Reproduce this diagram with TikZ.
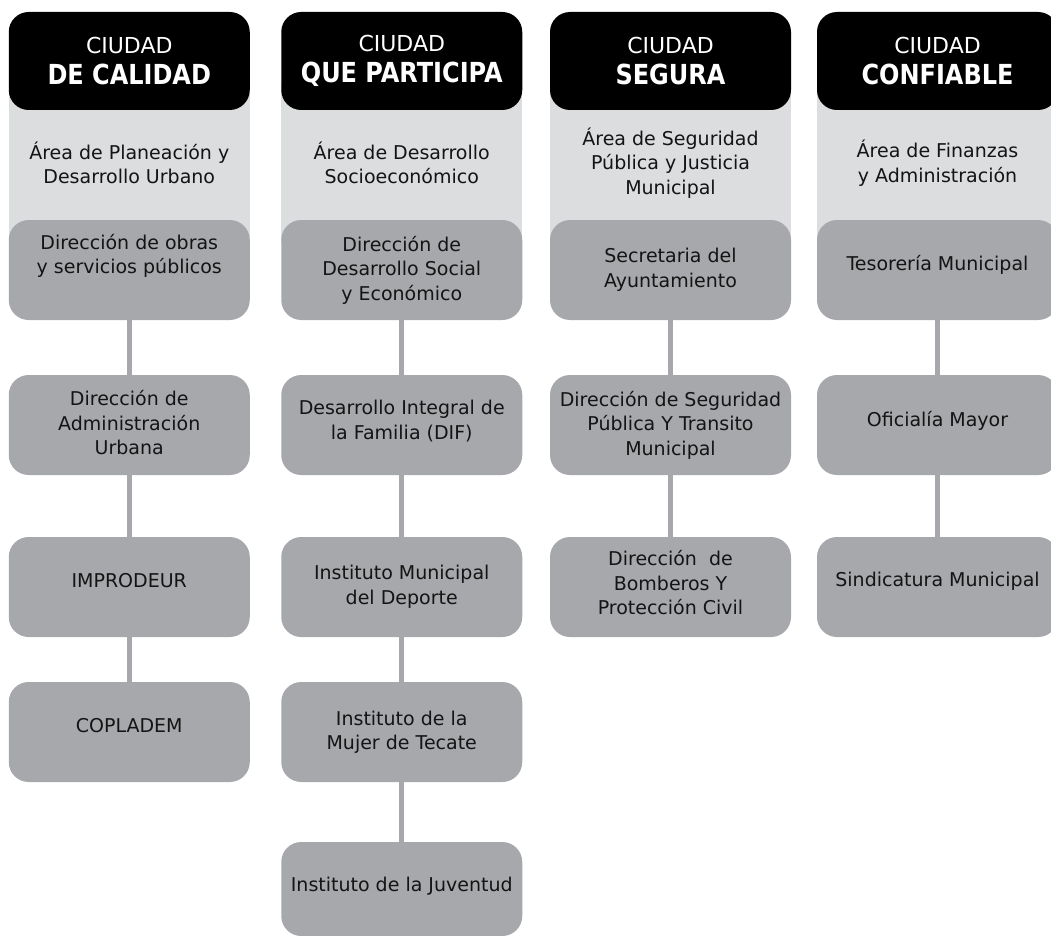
\documentclass[tikz,border=0pt]{standalone}
\usepackage{fontspec}
\setmainfont{DejaVu Sans}
\definecolor{panelgray}{HTML}{DCDDDF}
\definecolor{boxgray}{HTML}{A7A8AB}
\definecolor{inkblack}{HTML}{141414}
\tikzset{
  hdr/.style={fill=black, rounded corners=20pt, minimum width=241pt, minimum height=98pt,
    text=white, align=center, inner sep=0pt, font=\fontsize{22}{31}\selectfont},
  panel/.style={fill=panelgray, minimum width=241pt, minimum height=160pt, inner sep=0pt,
    align=center, text=inkblack, font=\fontsize{19}{24.5}\selectfont},
  orgbox/.style={fill=boxgray, rounded corners=20pt, minimum width=241pt, minimum height=100pt, inner sep=0pt},
  lbl/.style={align=center, text=inkblack, inner sep=0pt, font=\fontsize{19}{24.5}\selectfont},
  conn/.style={draw=boxgray, line width=5pt},
}
\newcommand{\bigw}[1]{\scalebox{1}[1.15]{\fontsize{24}{31}\selectfont\bfseries #1}}
\begin{document}
\begin{tikzpicture}[x=1pt,y=-1pt]
\useasboundingbox[fill=white] (0,0) rectangle (1051,936);
% panels
\node[panel] (p1) at (129.25,163) {Área de Planeación y\\Desarrollo Urbano};
\node[panel] (p2) at (401.75,163) {Área de Desarrollo\\Socioeconómico};
\node[panel] (p3) at (670.5,163) {Área de Seguridad\\Pública y Justicia\\Municipal};
\node[panel] (p4) at (937.5,163) {Área de Finanzas\\y Administración};
% headers
\node[hdr] (h1) at (129.25,61) {CIUDAD\\\bigw{DE CALIDAD}};
\node[hdr] (h2) at (401.75,61) {CIUDAD\\\bigw{QUE PARTICIPA}};
\node[hdr] (h3) at (670.5,61) {CIUDAD\\\bigw{SEGURA}};
\node[hdr] (h4) at (937.5,61) {CIUDAD\\\bigw{CONFIABLE}};
% column 1
\node[orgbox, label={[lbl,yshift=14pt]center:{Dirección de obras\\y servicios públicos}}] (c1a) at (129.25,270) {};
\node[orgbox, label={[lbl,yshift=2pt]center:{Dirección de\\Administración\\Urbana}}] (c1b) at (129.25,425) {};
\node[orgbox, label={[lbl,yshift=6pt]center:{IMPRODEUR}}] (c1c) at (129.25,587) {};
\node[orgbox, label={[lbl,yshift=6pt]center:{COPLADEM}}] (c1d) at (129.25,732) {};
% column 2
\node[orgbox, label={[lbl]center:{Dirección de\\Desarrollo Social\\y Económico}}] (c2a) at (401.75,270) {};
\node[orgbox, label={[lbl,yshift=4pt]center:{Desarrollo Integral de\\la Familia (DIF)}}] (c2b) at (401.75,425) {};
\node[orgbox, label={[lbl]center:{Instituto Municipal\\del Deporte}}] (c2c) at (401.75,587) {};
\node[orgbox, label={[lbl]center:{Instituto de la\\Mujer de Tecate}}] (c2d) at (401.75,732) {};
\node[orgbox, minimum height=94pt, label={[lbl,yshift=3pt]center:{Instituto de la Juventud}}] (c2e) at (401.75,889) {};
% column 3
\node[orgbox, label={[lbl]center:{Secretaria del\\Ayuntamiento}}] (c3a) at (670.5,270) {};
\node[orgbox, label={[lbl]center:{Dirección de Seguridad\\Pública Y Transito\\Municipal}}] (c3b) at (670.5,425) {};
\node[orgbox, label={[lbl,yshift=4pt]center:{Dirección\ \ de\\Bomberos Y\\Protección Civil}}] (c3c) at (670.5,587) {};
% column 4
\node[orgbox, label={[lbl,yshift=5pt]center:{Tesorería Municipal}}] (c4a) at (937.5,270) {};
\node[orgbox, label={[lbl,yshift=4pt]center:{Oficialía Mayor}}] (c4b) at (937.5,425) {};
\node[orgbox, label={[lbl,yshift=6pt]center:{Sindicatura Municipal}}] (c4c) at (937.5,587) {};
% connectors
\draw[conn] (c1a.south) -- (c1b.north);
\draw[conn] (c1b.south) -- (c1c.north);
\draw[conn] (c1c.south) -- (c1d.north);
\draw[conn] (c2a.south) -- (c2b.north);
\draw[conn] (c2b.south) -- (c2c.north);
\draw[conn] (c2c.south) -- (c2d.north);
\draw[conn] (c2d.south) -- (c2e.north);
\draw[conn] (c3a.south) -- (c3b.north);
\draw[conn] (c3b.south) -- (c3c.north);
\draw[conn] (c4a.south) -- (c4b.north);
\draw[conn] (c4b.south) -- (c4c.north);
\end{tikzpicture}
\end{document}
